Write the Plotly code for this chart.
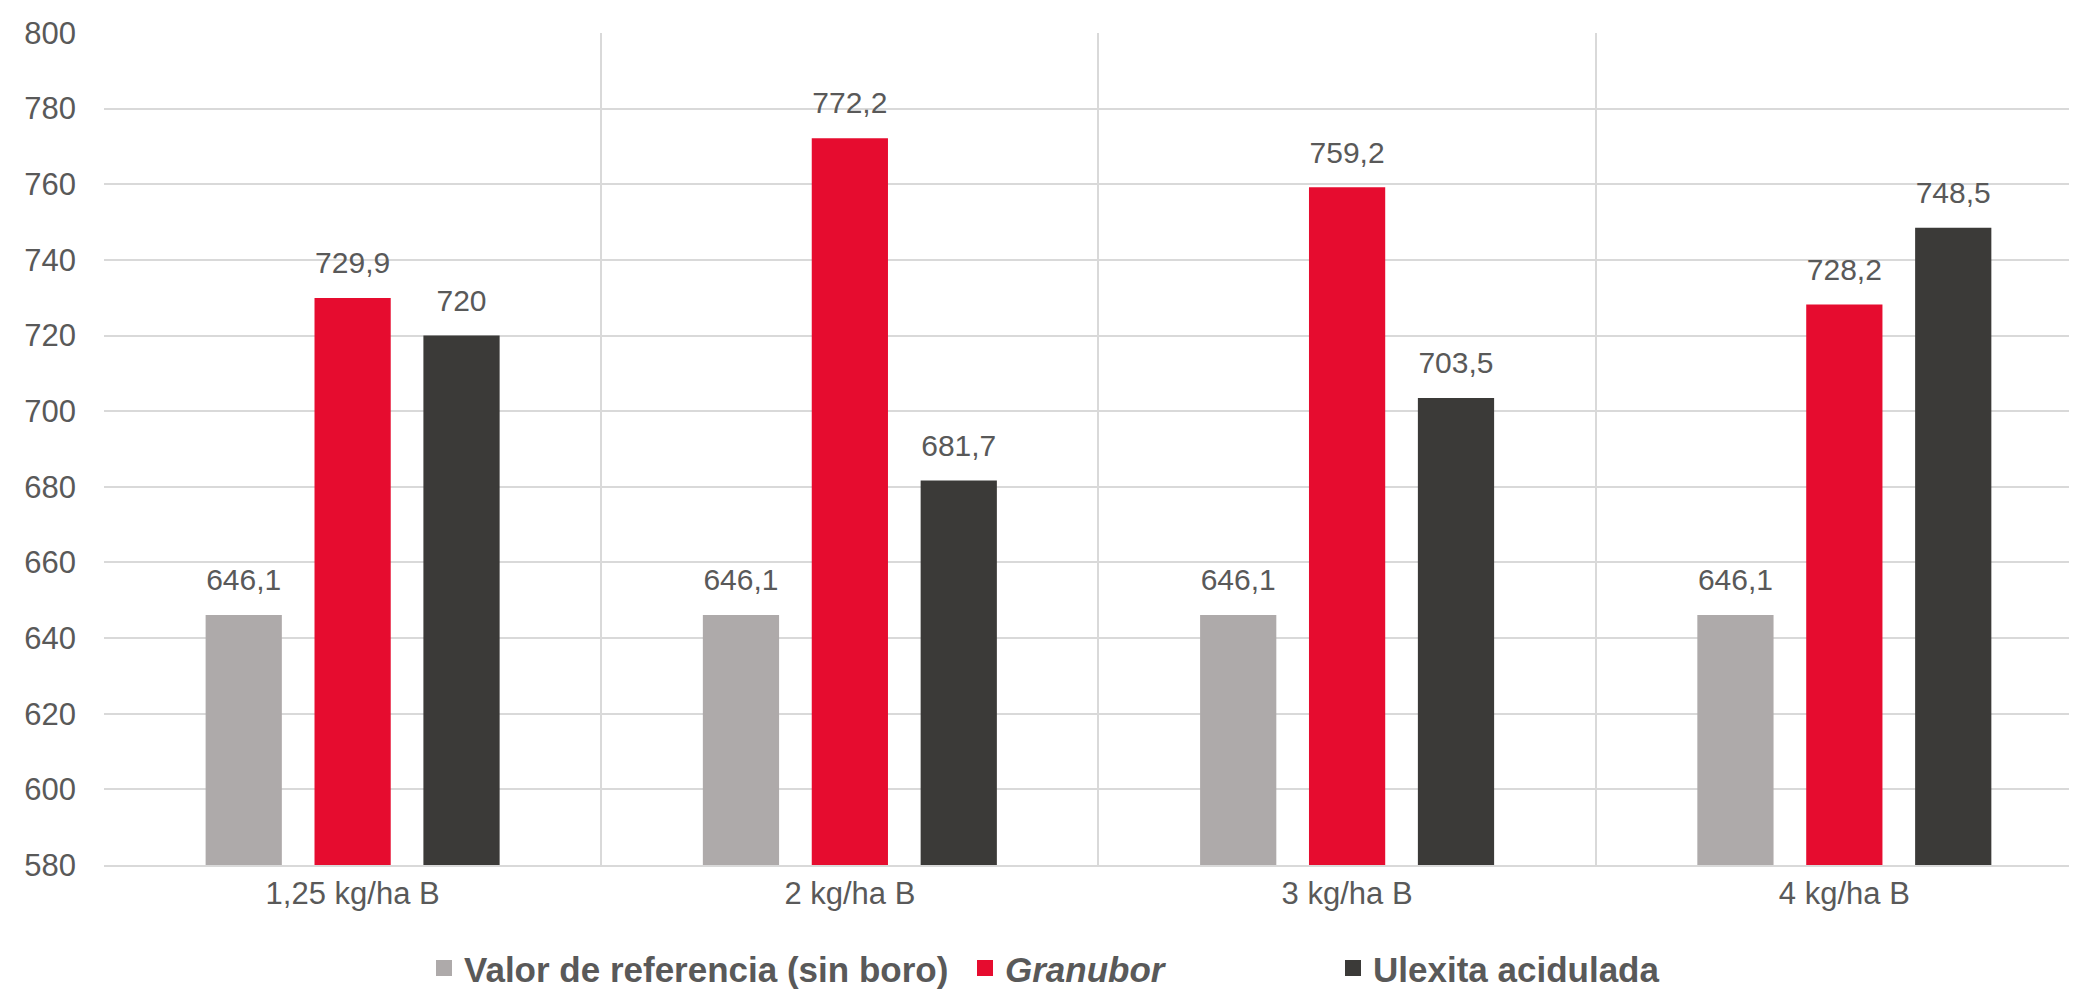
import plotly.graph_objects as go

categories = ["1,25 kg/ha B", "2 kg/ha B", "3 kg/ha B", "4 kg/ha B"]
series_names = ["Valor de referencia (sin boro)", "<i>Granubor</i>", "Ulexita acidulada"]
referencia = [646.1, 646.1, 646.1, 646.1]
granubor = [729.9, 772.2, 759.2, 728.2]
ulexita = [720, 681.7, 703.5, 748.5]
y_ticks = [580, 600, 620, 640, 660, 680, 700, 720, 740, 760, 780, 800]

colors = ["#AEAAAA", "#E60C2F", "#3B3A38"]
series = [referencia, granubor, ulexita]
FONT = "Liberation Sans, Arial, sans-serif"
TXT = "#595959"

def fmt(v):
    return f"{v:g}".replace(".", ",")

fig = go.Figure()
legend_ids = ["legend", "legend2", "legend3"]
for name, vals, col in zip(series_names, series, colors):
    fig.add_trace(go.Bar(
        x=categories, y=vals, name=name, marker_color=col,
        marker_line_width=0, showlegend=False,
    ))
# value labels via grouped scatter (aligned with bar groups)
for name, vals, col in zip(series_names, series, colors):
    fig.add_trace(go.Scatter(
        x=categories, y=vals, mode="markers+text",
        text=[fmt(v) for v in vals], textposition="top center",
        textfont=dict(family=FONT, size=30, color=TXT),
        marker=dict(size=26, opacity=0, color=col),
        showlegend=False, hoverinfo="skip", cliponaxis=False,
    ))
# legend proxies on a separate hidden subplot
for name, col, lg in zip(series_names, colors, legend_ids):
    fig.add_trace(go.Scatter(
        x=[None], y=[None], mode="markers", name=name,
        marker=dict(symbol="square", size=16, color=col),
        xaxis="x2", yaxis="y2", legend=lg, showlegend=True,
    ))

legend_common = dict(
    orientation="h", xref="container", yref="container",
    yanchor="middle", y=0.031, xanchor="left",
    font=dict(family=FONT, size=35, color=TXT, weight="bold"),
    bgcolor="rgba(0,0,0,0)", itemsizing="trace", itemwidth=30,
)

fig.update_layout(
    width=2077, height=991,
    margin=dict(l=96, r=0, t=25, b=134, autoexpand=False),
    plot_bgcolor="white", paper_bgcolor="white",
    barmode="group", bargap=0.343, bargroupgap=0.30,
    scattermode="group", scattergap=0.343,
    font=dict(family=FONT, color=TXT),
    xaxis=dict(
        type="category", tickson="boundaries", showgrid=True,
        range=[-0.5, 3.484],
        gridcolor="#D9D9D9", gridwidth=2, ticks="", showline=True,
        linecolor="#D9D9D9", linewidth=2, automargin=False,
        tickfont=dict(family=FONT, size=31, color=TXT),
        ticklabelstandoff=0,
    ),
    yaxis=dict(
        range=[580, 800], tickvals=y_ticks, showgrid=True,
        gridcolor="#D9D9D9", gridwidth=2, zeroline=False, ticks="",
        tickfont=dict(family=FONT, size=31, color=TXT),
        ticklabelstandoff=27, automargin=False,
    ),
    xaxis2=dict(visible=False, overlaying="x", range=[0, 1]),
    yaxis2=dict(visible=False, overlaying="y", range=[0, 1]),
    legend=dict(legend_common, x=416 / 2077),
    legend2=dict(legend_common, x=957 / 2077),
    legend3=dict(legend_common, x=1325 / 2077),
)

fig.write_html("out.html")
